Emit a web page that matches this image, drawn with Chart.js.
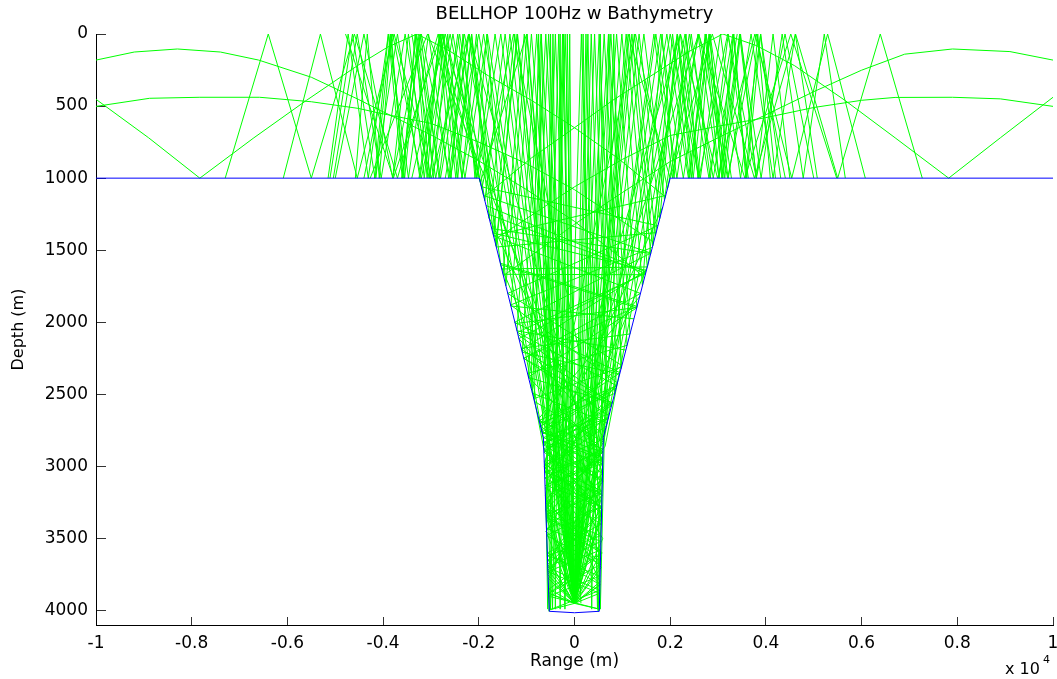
<!doctype html>
<html lang="en">
<head>
<meta charset="utf-8">
<title>BELLHOP 100Hz w Bathymetry</title>
<script src="https://cdn.jsdelivr.net/npm/chart.js"></script>
<style>
  html, body { margin: 0; padding: 0; background: #fff; }
  #wrap { position: relative; width: 1057px; height: 679px; }
</style>
</head>
<body>
<div id="wrap"><canvas id="rays"></canvas></div>
<script>
// axis ticks (range in m, labels shown in units of 10^4)
const xTicks = [-10000, -8000, -6000, -4000, -2000, 0, 2000, 4000, 6000, 8000, 10000];
const xTickLabels = ['-1', '-0.8', '-0.6', '-0.4', '-0.2', '0', '0.2', '0.4', '0.6', '0.8', '1'];
const yTicks = [0, 500, 1000, 1500, 2000, 2500, 3000, 3500, 4000];
const yTickLabels = ['0', '500', '1000', '1500', '2000', '2500', '3000', '3500', '4000'];

// bathymetry (range m, depth m)
const bathyRange = [-10000, -1990, -650, -527, 0, 518, 602, 2000, 10000];
const bathyDepth = [1000, 1000, 2800, 4005, 4015, 4005, 2800, 1000, 1000];

// rays, flat lists of range,depth pairs
const shelfRaysLeft = [
  [0,3950, -1000,0, -1968,1030, -2850,0, -3700,1000, -4600,0, -5500,1000, -6400,0, -7300,1000],
  [0,3950, 574,3200, -2215,0, -2990,1000, -3770,0, -4540,1000, -5310,0, -6086,1000],
  [0,3950, -1820,0, -2290,1000, -2760,0, -3230,1000, -3700,0, -4170,1000, -4640,0, -5110,1000],
  [0,3950, -1540,0, -2040,1000, -2540,0, -3040,1000, -3540,0, -4040,1000, -4540,0, -5040,1000],
  [0,3950, 567,3300, -1540,1605, -2210,0, -2630,1000, -3050,0, -3470,1000, -3890,0, -4310,1000, -4730,0, -5150,1000],
  [0,3950, -990,0, -1434,1747, -1830,0, -2080,1000, -2330,0, -2580,1000, -2830,0, -3080,1000, -3330,0, -3580,1000, -3830,0, -4080,1000, -4330,0, -4580,1000],
  [0,3950, -1200,0, -1641,1469, -2050,0, -2350,1000, -2650,0, -2950,1000, -3250,0, -3550,1000, -3850,0, -4150,1000],
  [0,3950, 588,3000, -1275,0, -1936,1072, -2600,0, -3200,1000, -3800,0, -4400,1000],
  [0,3950, -1660,0, -2050,1000, -2440,0, -2830,1000, -3220,0, -3610,1000],
  [0,3950, -1350,0, -1782,1280, -2150,0, -2440,1000, -2730,0, -3020,1000, -3310,0, -3600,1000, -3890,0, -4180,1000],
  [0,3950, 565,3350, -2785,0, -3785,1000, -4785,0],
  [0,3950, 585,3300, -640,2880, -2300,0, -2800,1000, -3300,0],
  [0,3950, 590,3500, -640,2830, -2200,0, -2700,1000],
  [0,3950, -1450,0, -1874,1156, -2400,0, -2900,1000, -3400,0],
  [0,3950, -1900,0, -2350,1000, -2800,0, -3250,1000],
  [0,3950, -1250,0, -1692,1400, -2150,0, -2480,1000, -2810,0, -3140,1000, -3470,0, -3800,1000],
  [0,3950, -2000,0, -2600,1000, -3200,0, -3800,1000, -4400,0, -5000,1000]
];
const shelfRaysRight = [
  [0,3950, 1120,0, 2000,1000, 2880,0, 3760,1000, 4620,0, 5500,1000, 6390,0, 7268,1000],
  [0,3950, -609,3200, 2215,0, 2990,1000, 3770,0, 4540,1000, 5290,0, 6077,1000],
  [0,3950, 1800,0, 2274,1000, 2750,0, 3214,1000, 3690,0, 4150,1000, 4615,0, 5074,1000],
  [0,3950, 1700,0, 2140,1000, 2580,0, 3020,1000, 3460,0, 3900,1000, 4340,0, 4780,1000, 5220,0, 5659,1000],
  [0,3950, -599,3300, 1530,1605, 2210,0, 2630,1000, 3050,0, 3470,1000, 3890,0, 4310,1000],
  [0,3950, 990,0, 1420,1747, 1830,0, 2080,1000, 2330,0, 2580,1000, 2830,0, 3080,1000, 3330,0, 3580,1000, 3830,0, 4092,1000],
  [0,3950, 1200,0, 1636,1469, 2050,0, 2400,1000, 2750,0, 3100,1000, 3450,0, 3800,1000, 4150,0, 4500,1000],
  [0,3950, -630,3000, 1275,0, 1944,1072, 2600,0, 3200,1000, 3800,0, 4406,1000],
  [0,3950, 1660,0, 2050,1000, 2440,0, 2838,1000, 3214,0, 3633,1000],
  [0,3950, 1350,0, 1782,1280, 2150,0, 2440,1000, 2730,0, 3020,1000, 3319,0, 3600,1000, 3890,0, 4200,1000],
  [0,3950, -575,3300, 2593,0, 3560,1000, 4520,0, 5480,1000],
  [0,3950, -590,3350, 640,2860, 2310,0, 2810,1000, 3310,0],
  [0,3950, -595,3450, 610,2830, 2150,0, 2600,1000],
  [0,3950, 1450,0, 1880,1150, 2400,0, 2900,1000, 3400,0],
  [0,3950, 1930,0, 2380,1000, 2830,0, 3280,1000],
  [0,3950, 1250,0, 1692,1400, 2150,0, 2480,1000, 2810,0, 3140,1000, 3470,0, 3800,1000],
  [0,3950, 2000,0, 2600,1000, 3200,0, 3800,1000, 4400,0, 5000,1000]
];
const trenchRays = [
  [0,3950, -250,0, -500,3990, -750,0, -905,2458],
  [0,3950, 280,0, 540,3990, 820,0, 971,2324],
  [0,3950, -400,0, -679,2762, 592,2940, -616,3134],
  [0,3950, 420,0, 703,2669, -641,2890, 581,3100],
  [0,3950, -790,0, -1202,2059, 1073,2193],
  [0,3950, 760,0, 1160,2081, -1112,2180],
  [0,3950, -1190,0, -1635,1478, 1706,1378],
  [0,3950, 1150,0, 1593,1523, -1730,1350],
  [0,3950, -150,0, -300,3990, -450,0, -582,3469, -562,3990],
  [0,3950, 180,0, 360,3990, 540,0, 662,2721, -627,3010, 568,3280],
  [0,3950, -100,0, -200,3990, -300,0, -400,3990, -500,0, -586,3430],
  [0,3950, 350,0, 599,2835, 496,4005, 144,0, -204,3950],
  [0,3950, -330,0, -602,3263, -530,4005, -196,0, 134,3950],
  [0,3950, 515,0, 839,2494, -726,2702],
  [0,3950, -540,0, -881,2491, 697,2700],
  [0,3950, 710,0, 1099,2160, -980,2355],
  [0,3950, -700,0, -1091,2208, 947,2360],
  [0,3950, -600,0, -962,2382, 791,2560],
  [0,3950, 620,0, 983,2309, -850,2530],
  [0,3950, -900,0, -1330,1887, 1242,1976],
  [0,3950, 880,0, 1303,1897, -1236,2009],
  [0,3950, -1050,0, -1493,1667, 1479,1670],
  [0,3950, 1080,0, 1521,1616, -1521,1630],
  [0,3950, -230,0, -460,3990, -690,0, -838,2549, 601,2830],
  [0,3950, 240,0, 480,3990, 720,0, 870,2455, -666,2775],
  [0,3950, 560,3700, -600,3300, 595,2900, -966,2380, 1301,1900, -1544,1600],
  [0,3950, -560,3750, 575,3200, -640,2900, 788,2560, -1105,2190, 1503,1640, -1707,1380],
  [0,3950, 540,3820, -595,3450, 585,3050, -710,2720, 951,2350, -1253,2000, 1596,1520, -1901,1120, -2700,0, -3400,1000],
  [0,3950, -530,3880, 580,3600, -610,3250, 592,2940, -680,2760, 881,2440, -1194,2070, 1487,1660, -1804,1250],
  [0,3950, 550,3600, -620,3000, 718,2650, -1060,2250, 1378,1800, -1692,1400, 1907,1120],
  [0,3950, -545,3650, 600,3100, -688,2750, 990,2300, -1395,1800, 1743,1330, -1945,1060],
  [0,3950, -590,3100, 897,2420, -1335,1880, 1625,1480],
  [0,3950, 590,3050, -1870,1000, -3070,0, -4270,1000]
];
// rays bouncing between the walls of the narrow lower trench
const wallRays = [
  [0,3950, 525,3880, -555,3730, 540,3580, -575,3430, 555,3280, -595,3130, 575,2980, -635,2830, 710,2662],
  [0,3950, -533,3850, 546,3600, -579,3350, 567,3100, -645,2850, 795,2550],
  [0,3950, -560,3680, 566,3330, -612,2980, 783,2566, -1183,2084],
  [0,3950, 540,3680, -595,3230, 598,2790, -1162,2113, 1495,1650, -1849,1190],
  [0,3950, -555,3720, 567,3300, -640,2880, 772,2580, -1060,2250, 1308,1890, -1551,1590],
  [0,3950, 532,3800, -630,2968, 1845,1200],
  [0,3950, -540,3780, 590,2970, -1788,1271],
  [0,3950, -537,3880, 541,3680, -580,3480, 568,3280, -620,3080, 595,2880, -739,2681, 882,2439],
  [0,3950, 530,3820, -568,3600, 560,3400, -612,3150, 591,2950, -650,2800, 731,2634],
  [0,3950, -545,3650, 574,3200, -748,2669, 1361,1822],
  [0,3950, 520,3990, -540,3900, 535,3760, -565,3620, 550,3480, -590,3330, 565,3190, -615,3040, 590,2900, -680,2760],
  [0,3950, -525,3995, 530,3860, -560,3700, 548,3520, -585,3360, 572,3170, -625,2990, 600,2810]
];
const arcRays = [
  [-10000,181, -9200,125, -8300,104, -7400,125, -6600,181, -5500,300, -4520,453, -4060,530, -3000,700, -2000,880, -1000,1080, 0,1300, 1000,1560, 1464,1690],
  [-10000,502, -8880,446, -7830,439, -6580,439, -5500,470, -4520,516, -4060,550, -3000,620, -2000,750, -1000,900, 0,1080, 1000,1300, 1655,1444],
  [-10000,453, -8900,720, -7830,1000, -6700,720, -5600,460, -4520,216, -3900,90, -3290,0, -2600,120, -1800,290, -900,460, 0,650, 900,860, 1899,1130],
  [10000,181, 9100,122, 7900,104, 6900,140, 6000,251, 5000,400, 4000,560, 3000,720, 2000,885, 1000,1100, 0,1320, -1000,1560, -1488,1677],
  [10000,502, 8900,450, 7900,439, 6700,440, 6000,460, 5000,510, 4000,580, 3000,640, 2000,704, 1000,870, 0,1060, -1000,1280, -1672,1427],
  [10000,439, 8900,720, 7820,1000, 6700,720, 5650,460, 4600,220, 3800,80, 3100,0, 2400,120, 1600,290, 800,460, 0,650, -900,860, -1893,1130]
];

function toPoints(flat) {
  const pts = [];
  for (let i = 0; i < flat.length; i += 2) pts.push({ x: flat[i], y: flat[i + 1] });
  return pts;
}

Chart.defaults.font.family = '"DejaVu Sans", sans-serif';
Chart.defaults.color = '#000';

const datasets = [{
  label: 'Bathymetry',
  data: bathyRange.map((x, i) => ({ x: x, y: bathyDepth[i] })),
  showLine: true, pointRadius: 0, borderColor: 'rgb(0,0,255)', borderWidth: 1, order: 0
}];
[shelfRaysLeft, shelfRaysRight, trenchRays, wallRays, arcRays].forEach(group => {
  group.forEach(r => {
    datasets.push({
      label: 'ray', data: toPoints(r), showLine: true, pointRadius: 0,
      borderColor: 'rgb(0,255,0)', borderWidth: 1, order: 1
    });
  });
});

// "x 10^4" multiplier under the right end of the range axis
const exponentLabel = {
  id: 'exponentLabel',
  afterDraw(chart) {
    const { ctx, chartArea } = chart;
    ctx.save();
    ctx.fillStyle = '#000';
    ctx.textAlign = 'left';
    ctx.textBaseline = 'alphabetic';
    ctx.font = '16px "DejaVu Sans"';
    ctx.fillText('x 10', chartArea.right - 48, 674);
    ctx.font = '11px "DejaVu Sans"';
    ctx.fillText('4', chartArea.right - 10, 663);
    ctx.restore();
  }
};

new Chart(document.getElementById('rays'), {
  type: 'scatter',
  data: { datasets: datasets },
  options: {
    responsive: true,
    maintainAspectRatio: false,
    animation: false,
    layout: { padding: { left: 0, right: 4, top: 0, bottom: 0 } },
    plugins: {
      legend: { display: false },
      tooltip: { enabled: false },
      title: {
        display: true, fullSize: false, text: 'BELLHOP 100Hz w Bathymetry', color: '#000',
        font: { size: 18, weight: 'normal' }, padding: { top: 3.5, bottom: 8.9 }
      }
    },
    scales: {
      x: {
        type: 'linear', position: 'bottom', min: -10000, max: 10000,
        afterBuildTicks: s => { s.ticks = xTicks.map(v => ({ value: v })); },
        afterFit: s => { s.height = 54; s.paddingLeft = 0; s.paddingRight = 0; },
        ticks: {
          color: '#000', font: { size: 17 }, padding: 16, maxRotation: 0, autoSkip: false,
          callback: (v, i) => xTickLabels[i]
        },
        grid: { drawOnChartArea: false, tickLength: -8, color: '#333' },
        border: { display: true, color: '#000', width: 1 },
        title: { display: true, text: 'Range (m)', color: '#000', font: { size: 17 }, padding: { top: 0, bottom: 7 } }
      },
      y: {
        type: 'linear', position: 'left', reverse: true, min: 0, max: 4100,
        afterBuildTicks: s => { s.ticks = yTicks.map(v => ({ value: v })); },
        afterFit: s => { s.width = 96; },
        ticks: { color: '#000', font: { size: 17 }, padding: 18, autoSkip: false, callback: (v, i) => yTickLabels[i] },
        grid: { drawOnChartArea: false, tickLength: -10, color: '#333' },
        border: { display: true, color: '#000', width: 1 },
        title: { display: true, text: 'Depth (m)', color: '#000', font: { size: 16 }, padding: { top: 9.4, bottom: 0 } }
      }
    }
  },
  plugins: [exponentLabel]
});
</script>
</body>
</html>
